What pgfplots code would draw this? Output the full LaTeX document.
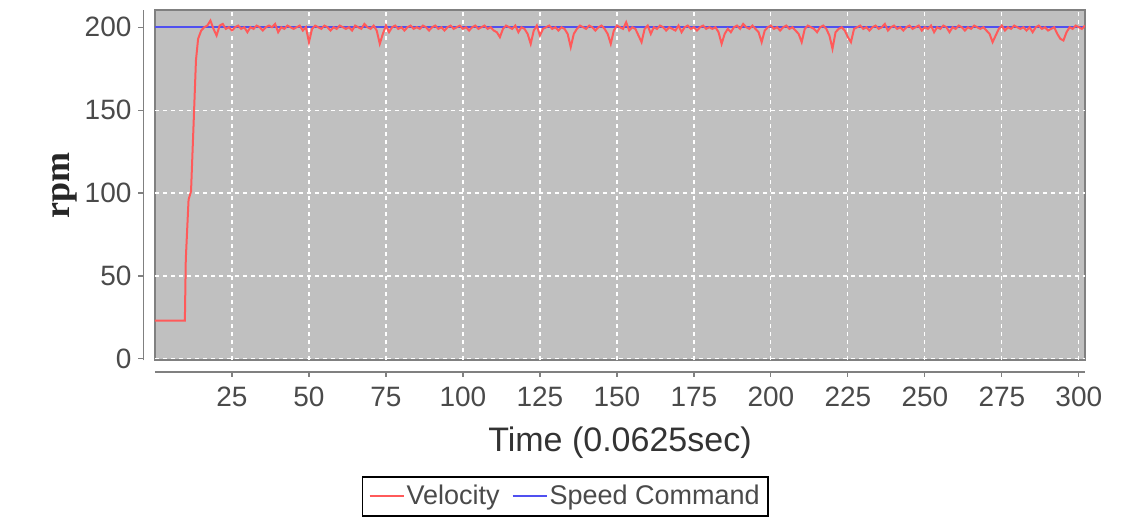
\documentclass[border=0pt]{standalone}
\usepackage{pgfplots}
\pgfplotsset{compat=1.18}
\usepackage{fontspec}
\setmainfont{Liberation Sans}
\newfontfamily\serifbold{Liberation Serif}
\definecolor{bggray}{HTML}{C0C0C0}
\definecolor{bordergray}{HTML}{808080}
\definecolor{velred}{HTML}{FF5A5A}
\definecolor{cmdblue}{HTML}{5050F0}
\definecolor{txtgray}{HTML}{4A4A4A}
\begin{document}
\begin{tikzpicture}
\begin{axis}[
  scale only axis, width=465pt, height=175.25pt,
  xmin=0, xmax=302, ymin=-1, ymax=210.4,
  axis lines*=left,
  axis line shift=5.75pt,
  axis line style={-, draw=bordergray, line width=0.8pt},
  axis background/.style={fill=bggray, draw=bordergray, line width=1pt},
  xtick={25,50,...,300}, ytick={0,50,...,200},
  tick align=outside, major tick length=2.5pt,
  tick style={draw=bordergray, line width=0.6pt},
  grid=major,
  major grid style={white, line width=0.6pt, dash pattern=on 2pt off 2pt},
  ticklabel style={font=\fontsize{14}{14}\selectfont, text=txtgray},
  xticklabel style={yshift=-1.5pt},
  /pgf/number format/assume math mode=true,
  xlabel={Time (0.0625sec)},
  xlabel style={at={(axis description cs:0.5,0)}, anchor=north, yshift=-33pt, inner sep=0pt, font=\fontsize{17}{17}\selectfont, text=black!80},
  ylabel={rpm},
  ylabel style={at={(axis description cs:-0.097,0.5)}, anchor=center, font=\serifbold\bfseries\fontsize{18}{18}\selectfont, text=black!85},
  legend columns=2,
  reverse legend,
  legend style={at={(axis description cs:0.441,-0.388)}, anchor=center, draw=black, line width=0.9pt,
    font=\fontsize{13.5}{13.5}\selectfont, text=txtgray, inner xsep=3pt, inner ysep=2pt,
    nodes={inner xsep=1pt},
    /tikz/every even column/.append style={column sep=5pt}},
  legend image code/.code={\draw[#1, line width=1pt] (0pt,0pt) -- (17pt,0pt);},
]
\addplot[cmdblue, line width=1.2pt] coordinates {(0,200) (302,200)};
\addlegendentry{Speed Command}
\addplot[velred, line width=1pt] table {
x y
0 23
9.7 23
10 60
10.9 96
11.7 101
12.5 140
13.3 180
14 193
15 198
16 200
17 201
18 204
19 199
20 195
21 201
22 202
23 199
24 200
25 198
26 200
27 201
28 199
29 200
30 197
31 200
32 199
33 201
34 200
35 198
36 200
37 201
38 200
39 202
40 197
41 200
42 199
43 201
44 200
45 199
46 200
47 201
48 198
49 200
50 191
51 199
52 201
53 200
54 199
55 201
56 200
57 198
58 200
59 199
60 201
61 200
62 199
63 200
64 198
65 201
66 200
67 199
68 202
69 200
70 199
71 201
72 198
73 190
74 196
75 201
76 197
77 200
78 201
79 199
80 200
81 198
82 200
83 201
84 199
85 200
86 199
87 201
88 200
89 198
90 200
91 201
92 199
93 200
94 198
95 200
96 201
97 199
98 200
99 201
100 199
101 200
102 198
103 200
104 201
105 199
106 200
107 201
108 199
109 200
110 198
111 197
112 194
113 199
114 201
115 200
116 199
117 201
118 197
119 200
120 199
121 196
122 190
123 198
124 201
125 195
126 199
127 200
128 201
129 199
130 200
131 198
132 200
133 199
134 196
135 188
136 196
137 199
138 201
139 200
140 199
141 201
142 200
143 198
144 200
145 201
146 199
147 196
148 190
149 198
150 201
151 200
152 199
153 203
154 198
155 200
156 199
157 195
158 191
159 199
160 201
161 196
162 200
163 199
164 201
165 200
166 198
167 200
168 199
169 198
170 201
171 197
172 200
173 201
174 199
175 200
176 198
177 200
178 201
179 199
180 200
181 199
182 200
183 197
184 190
185 196
186 199
187 197
188 200
189 201
190 199
191 202
192 200
193 199
194 201
195 199
196 197
197 191
198 198
199 200
200 201
201 199
202 200
203 198
204 200
205 201
206 199
207 200
208 198
209 196
210 191
211 199
212 201
213 200
214 199
215 197
216 200
217 201
218 199
219 195
220 187
221 197
222 199
223 200
224 198
225 194
226 191
227 199
228 200
229 201
230 199
231 200
232 198
233 200
234 201
235 199
236 200
237 202
238 198
239 200
240 201
241 199
242 200
243 198
244 200
245 201
246 199
247 200
248 201
249 198
250 200
251 199
252 201
253 197
254 200
255 199
256 201
257 200
258 197
259 200
260 199
261 201
262 200
263 198
264 200
265 199
266 201
267 200
268 199
269 200
270 198
271 196
272 191
273 195
274 199
275 201
276 198
277 200
278 199
279 201
280 200
281 199
282 200
283 198
284 200
285 197
286 200
287 201
288 199
289 200
290 198
291 199
292 200
293 196
294 193
295 192
296 197
297 200
298 199
299 201
300 200
301 199
302 201
};
\addlegendentry{Velocity}
\end{axis}
\pgfresetboundingbox
\path[use as bounding box] (-77.5pt,-80.75pt) rectangle (493.5pt,180.25pt);
\end{tikzpicture}
\end{document}
